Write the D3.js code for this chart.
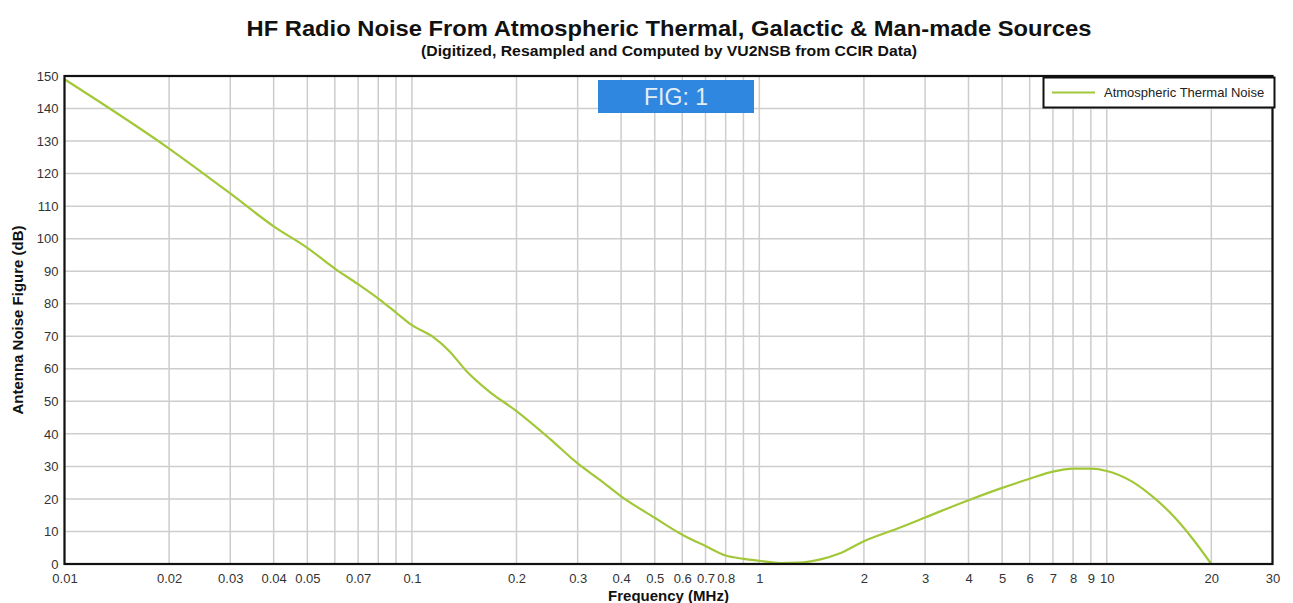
<!DOCTYPE html>
<html>
<head>
<meta charset="utf-8">
<script src="https://cdn.jsdelivr.net/npm/d3@7"></script>
<style>
  html, body { margin: 0; padding: 0; background: #fff; }
  svg { display: block; font-family: "Liberation Sans", Arial, sans-serif; }
</style>
</head>
<body>
<svg id="chart" width="1293" height="603"></svg>
<script>
// Atmospheric thermal noise figure vs. frequency (CCIR-derived)
const freqMHz = [0.01, 0.02, 0.03, 0.04, 0.05, 0.06, 0.07, 0.08, 0.09, 0.1,
  0.115, 0.128, 0.143, 0.167, 0.2, 0.25, 0.3, 0.35, 0.4, 0.5, 0.6, 0.7, 0.8, 0.9,
  1.0, 1.15, 1.3, 1.5, 1.7, 2, 2.5, 3, 4, 5, 6, 7, 8, 9, 10, 11.8, 13.8, 15.7, 17.6, 20];
const atmosphericNoise = [149, 127.7, 113.9, 103.8, 97.2, 90.8, 86, 81.6, 77.3, 73.4,
  69.8, 65.5, 59.5, 53, 47, 38.4, 30.9, 25.6, 20.8, 14.2, 9, 5.5, 2.6, 1.6,
  1.0, 0.3, 0.4, 1.4, 3.2, 7, 10.9, 14.3, 19.6, 23.4, 26.2, 28.4, 29.3, 29.3, 28.6, 25.4, 20, 14.3, 8, 0];

const xGrid = [0.01, 0.02, 0.03, 0.04, 0.05, 0.06, 0.07, 0.08, 0.09,
  0.1, 0.2, 0.3, 0.4, 0.5, 0.6, 0.7, 0.8, 0.9,
  1, 2, 3, 4, 5, 6, 7, 8, 9, 10, 20, 30];
const xTickLabels = [0.01, 0.02, 0.03, 0.04, 0.05, 0.07, 0.1, 0.2, 0.3, 0.4, 0.5,
  0.6, 0.7, 0.8, 1, 2, 3, 4, 5, 6, 7, 8, 9, 10, 20, 30];
const yTicks = [0, 10, 20, 30, 40, 50, 60, 70, 80, 90, 100, 110, 120, 130, 140, 150];

const titleText = "HF Radio Noise From Atmospheric Thermal, Galactic & Man-made Sources";
const subtitleText = "(Digitized, Resampled and Computed by VU2NSB from CCIR Data)";
const xTitle = "Frequency (MHz)";
const yTitle = "Antenna Noise Figure (dB)";
const seriesName = "Atmospheric Thermal Noise";
const figLabel = "FIG: 1";

const svg = d3.select("#chart");
const plot = { left: 64.5, right: 1272.5, top: 76, bottom: 564 };

const x = d3.scaleLog().domain([0.01, 30]).range([plot.left, plot.right]);
const y = d3.scaleLinear().domain([0, 150]).range([plot.bottom, plot.top]);

// gridlines
const grid = svg.append("g");
grid.selectAll("line.v").data(xGrid).join("line")
  .attr("x1", d => x(d)).attr("x2", d => x(d))
  .attr("y1", plot.top).attr("y2", plot.bottom)
  .attr("stroke", "#cdcdcd").attr("stroke-width", 1.5);
grid.selectAll("line.h").data(yTicks).join("line")
  .attr("x1", plot.left).attr("x2", plot.right)
  .attr("y1", d => y(d)).attr("y2", d => y(d))
  .attr("stroke", "#cdcdcd").attr("stroke-width", 1.5);

// axes (labels only; frame drawn separately)
const xAxis = d3.axisBottom(x).tickValues(xTickLabels).tickFormat(d => String(d)).tickSize(0).tickPadding(10);
const gx = svg.append("g").attr("transform", `translate(0,${plot.bottom})`).call(xAxis);
gx.select(".domain").remove();
gx.selectAll("text").attr("font-size", 13).attr("fill", "#333")
  .attr("font-family", "Liberation Sans, Arial, sans-serif");

const yAxis = d3.axisLeft(y).tickValues(yTicks).tickSize(0).tickPadding(6);
const gy = svg.append("g").attr("transform", `translate(${plot.left},0)`).call(yAxis);
gy.select(".domain").remove();
gy.selectAll("text").attr("font-size", 13).attr("fill", "#333")
  .attr("font-family", "Liberation Sans, Arial, sans-serif");

// series line
const line = d3.line()
  .x((d, i) => x(freqMHz[i]))
  .y(d => y(d))
  .curve(d3.curveMonotoneX);
svg.append("path")
  .attr("d", line(atmosphericNoise))
  .attr("fill", "none")
  .attr("stroke", "#a2c83a")
  .attr("stroke-width", 2.2)
  .attr("stroke-linejoin", "round");

// plot frame
svg.append("rect")
  .attr("x", plot.left).attr("y", plot.top)
  .attr("width", plot.right - plot.left).attr("height", plot.bottom - plot.top)
  .attr("fill", "none").attr("stroke", "#111").attr("stroke-width", 2.2);

// title block
svg.append("text").attr("x", 669).attr("y", 36)
  .attr("text-anchor", "middle").attr("font-weight", "bold").attr("font-size", 22)
  .attr("fill", "#111").attr("textLength", 845).attr("lengthAdjust", "spacingAndGlyphs")
  .text(titleText);
svg.append("text").attr("x", 669).attr("y", 56)
  .attr("text-anchor", "middle").attr("font-weight", "bold").attr("font-size", 14)
  .attr("fill", "#111").attr("textLength", 496).attr("lengthAdjust", "spacingAndGlyphs")
  .text(subtitleText);

// axis titles
svg.append("text").attr("x", (plot.left + plot.right) / 2).attr("y", 601)
  .attr("text-anchor", "middle").attr("font-weight", "bold").attr("font-size", 15)
  .attr("fill", "#111").text(xTitle);
svg.append("text")
  .attr("transform", `translate(23,${(plot.top + plot.bottom) / 2}) rotate(-90)`)
  .attr("text-anchor", "middle").attr("font-weight", "bold").attr("font-size", 15)
  .attr("fill", "#111").text(yTitle);

// figure tag
const fig = svg.append("g");
fig.append("rect").attr("x", 598).attr("y", 80).attr("width", 156).attr("height", 33)
  .attr("fill", "#2f87df");
fig.append("text").attr("x", 676).attr("y", 105)
  .attr("text-anchor", "middle").attr("font-size", 23).attr("fill", "#e4eefa")
  .text(figLabel);

// legend
const lg = svg.append("g");
lg.append("rect").attr("x", 1043.5).attr("y", 77.5).attr("width", 231).attr("height", 30)
  .attr("fill", "#fff").attr("stroke", "#111").attr("stroke-width", 2);
lg.append("line").attr("x1", 1052).attr("x2", 1095).attr("y1", 92.5).attr("y2", 92.5)
  .attr("stroke", "#a2c83a").attr("stroke-width", 2);
lg.append("text").attr("x", 1104).attr("y", 97)
  .attr("font-size", 13).attr("fill", "#222").text(seriesName);
</script>
</body>
</html>
